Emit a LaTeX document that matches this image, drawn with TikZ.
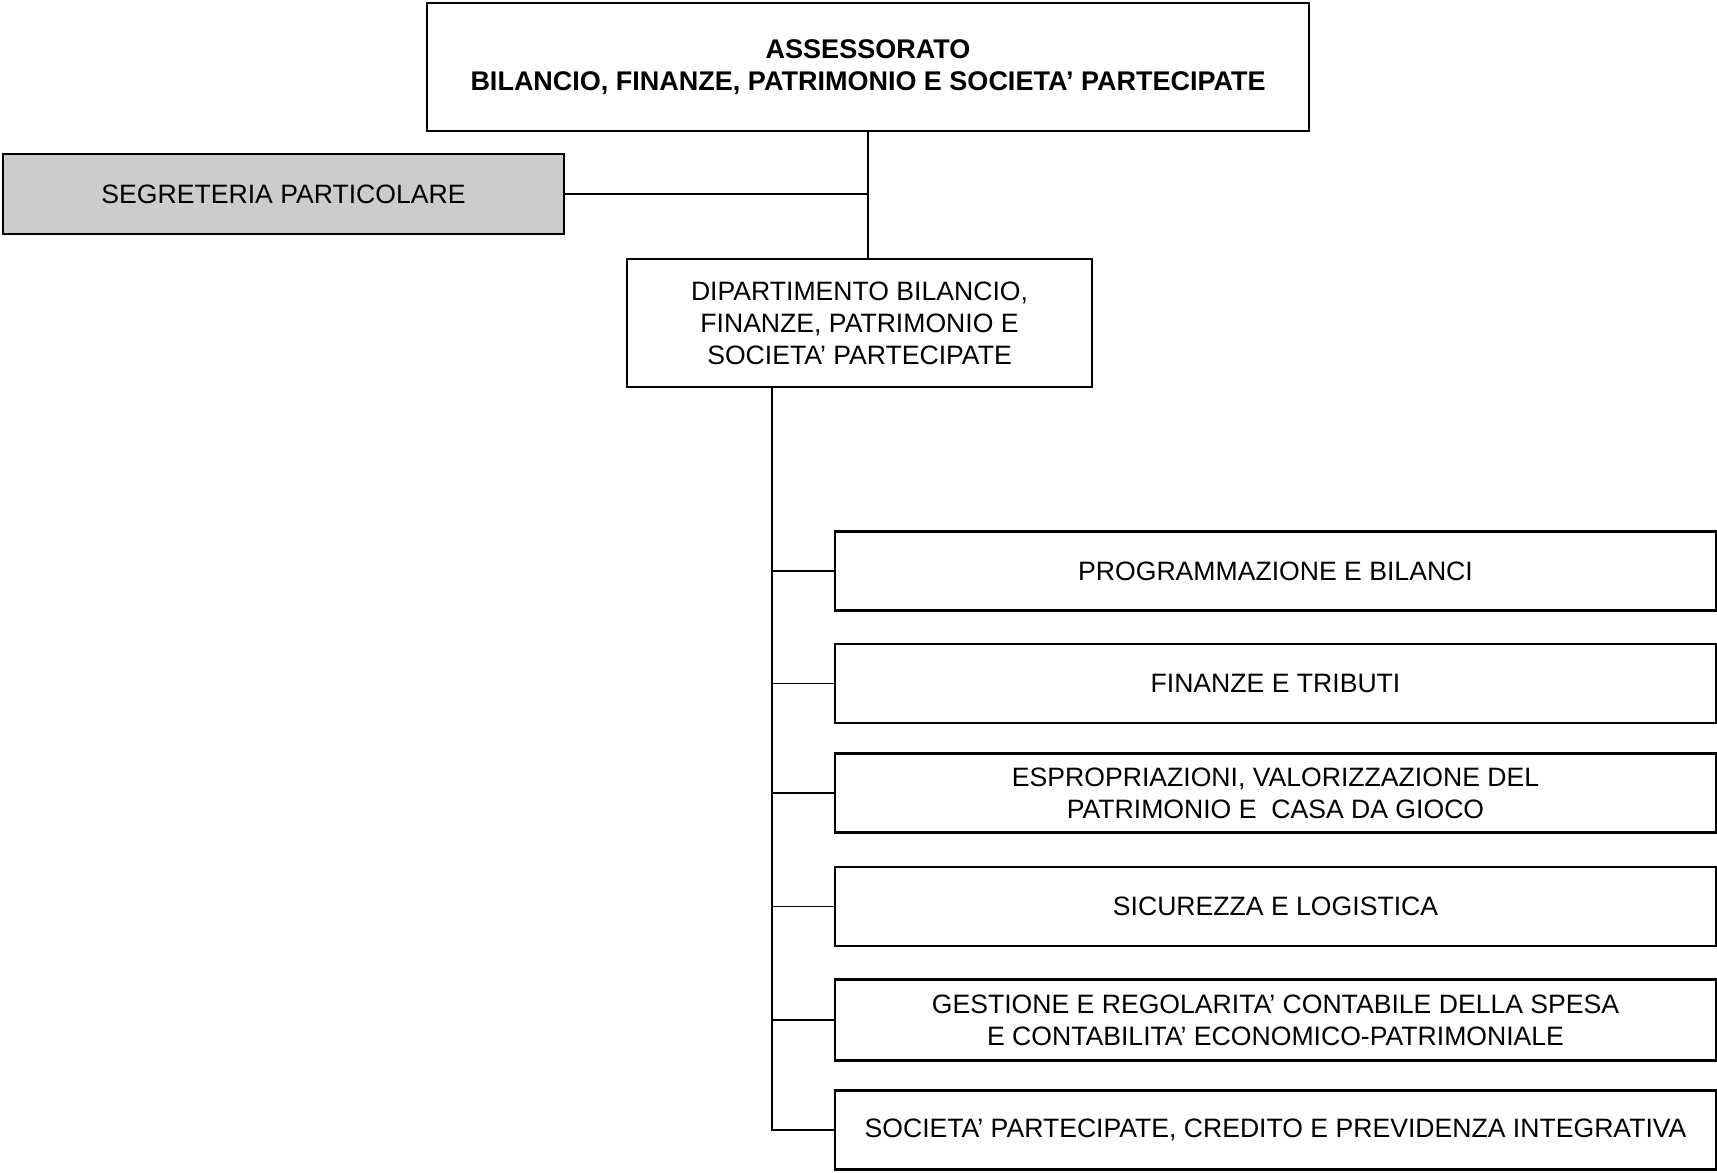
\documentclass[tikz,border=0pt]{standalone}
\usepackage{fontspec}
\setmainfont{Liberation Sans}
\begin{document}
\begin{tikzpicture}[x=0.5pt,y=-0.5pt,
  box/.style={draw, line width=1.2pt, inner sep=0pt, align=center, font=\fontsize{13.3}{16}\selectfont},
  unit/.style={box, minimum width=440.5pt, minimum height=39.5pt},
  link/.style={line width=0.8pt}]
\useasboundingbox (0,0) rectangle (1717,1172);
\node[box, minimum width=441pt, minimum height=64pt, font=\bfseries\fontsize{13.5}{16}\selectfont] (ass) at (868,67)
  {ASSESSORATO\\BILANCIO, FINANZE, PATRIMONIO E SOCIETA’ PARTECIPATE};
\node[box, fill=black!20, minimum width=280.5pt, minimum height=40pt] (seg) at (283.5,194) {SEGRETERIA PARTICOLARE};
\node[box, minimum width=232.5pt, minimum height=64pt] (dip) at (859.5,323)
  {DIPARTIMENTO BILANCIO,\\ FINANZE, PATRIMONIO E\\SOCIETA’ PARTECIPATE};
\node[unit] (r1) at (1275.5,571) {PROGRAMMAZIONE E BILANCI};
\node[unit] (r2) at (1275.5,683.5) {FINANZE E TRIBUTI};
\node[unit] (r3) at (1275.5,793) {ESPROPRIAZIONI, VALORIZZAZIONE DEL\\PATRIMONIO E \ CASA DA GIOCO};
\node[unit] (r4) at (1275.5,906.5) {SICUREZZA E LOGISTICA};
\node[unit, minimum height=40.5pt] (r5) at (1275.5,1020) {GESTIONE E REGOLARITA’ CONTABILE DELLA SPESA\\E CONTABILITA’ ECONOMICO-PATRIMONIALE};
\node[unit] (r6) at (1275.5,1130) {SOCIETA’ PARTECIPATE, CREDITO E PREVIDENZA INTEGRATIVA};
\draw[link] (ass.south) -- (ass.south |- dip.north);
\draw[link] (seg.east) -- (ass.south |- seg.east);
\coordinate (bustop) at (772,387);
\draw[link] (bustop) |- (r6.west);
\foreach \r in {r1,r2,r3,r4,r5} \draw[link] (bustop |- \r.west) -- (\r.west);
\end{tikzpicture}
\end{document}
